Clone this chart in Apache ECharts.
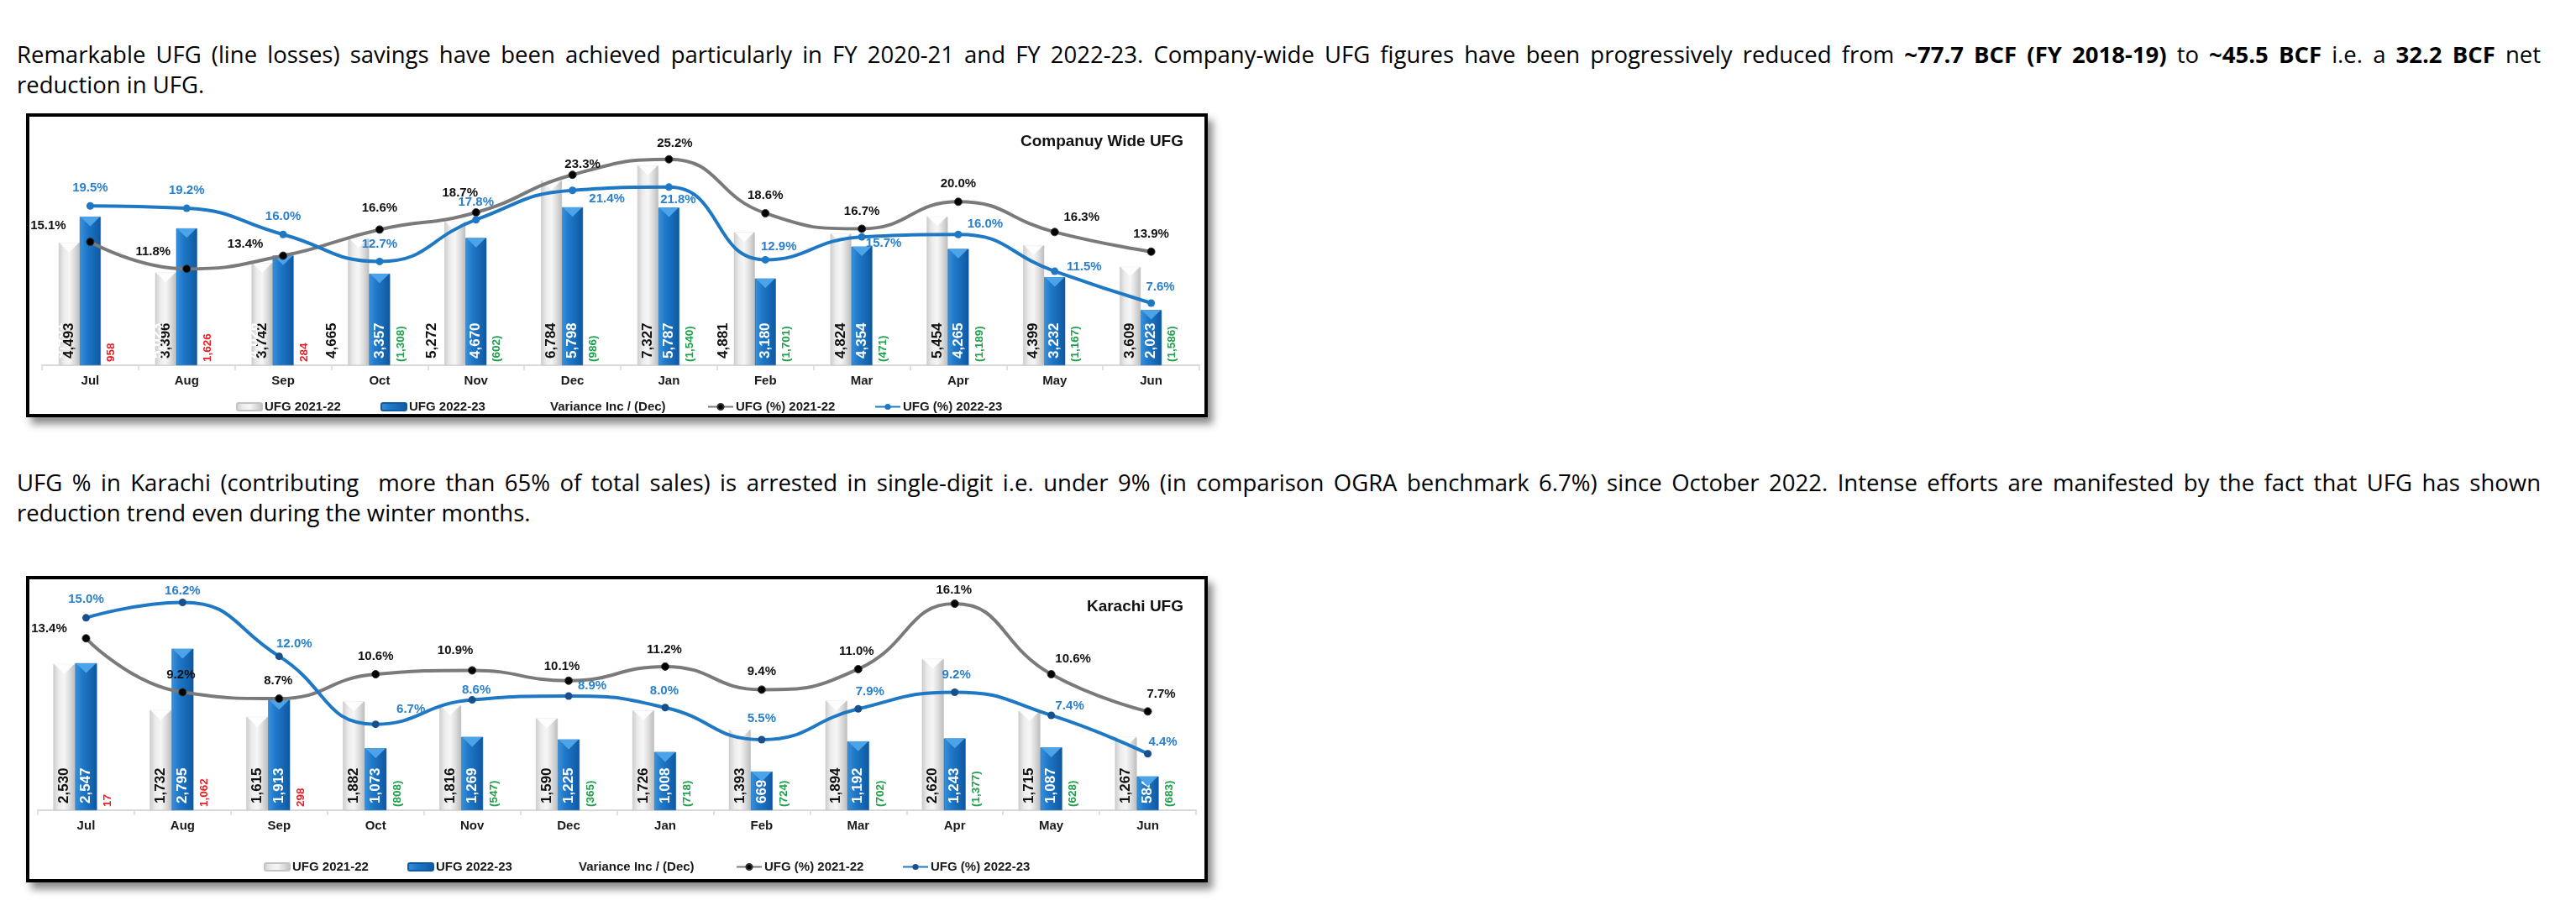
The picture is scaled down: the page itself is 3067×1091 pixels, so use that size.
<!DOCTYPE html>
<html lang="en">
<head>
    <meta charset="UTF-8">
    <title>UFG</title>
    <script src="https://cdn.jsdelivr.net/npm/echarts/dist/echarts.min.js"></script>
    <style>
        body {
            margin: 0;
            background: #fff;
            width: 3067px;
            height: 1091px;
            position: relative;
            overflow: hidden;
            font-family: 'Open Sans', 'Noto Sans', sans-serif;
            color: #000;
        }
        .para {
            position: absolute;
            left: 20px;
            width: 3005px;
            font-size: 27.5px;
            line-height: 36px;
        }
        .para .full {
            display: block;
            text-align: justify;
            text-align-last: justify;
        }
        .box {
            position: absolute;
            left: 31px;
            width: 1407px;
            border: 4px solid #000;
            box-sizing: border-box;
            background: #fff;
            box-shadow: 6px 8px 9px rgba(0, 0, 0, 0.45);
        }
        .chart {
            width: 100%;
            height: 100%;
        }
    </style>
</head>
<body>
    <div class="para" style="top:47px">
        <span class="full">Remarkable UFG (line losses) savings have been achieved particularly in FY 2020-21 and FY 2022-23. Company-wide UFG figures have been progressively reduced from <b>~77.7 BCF (FY 2018-19)</b> to <b>~45.5 BCF</b> i.e. a <b>32.2 BCF</b> net</span>
        <span>reduction in UFG.</span>
    </div>
    <div class="box" style="top:135px;height:362px"><div id="companyChart" class="chart"></div></div>

    <div class="para" style="top:557px">
        <span class="full">UFG % in Karachi (contributing&nbsp; more than 65% of total sales) is arrested in single-digit i.e. under 9% (in comparison OGRA benchmark 6.7%) since October 2022. Intense efforts are manifested by the fact that UFG has shown</span>
        <span>reduction trend even during the winter months.</span>
    </div>
    <div class="box" style="top:686px;height:365px"><div id="karachiChart" class="chart"></div></div>

    <script>
        // data (MMCF, %)
        const months = ['Jul', 'Aug', 'Sep', 'Oct', 'Nov', 'Dec', 'Jan', 'Feb', 'Mar', 'Apr', 'May', 'Jun'];

        const companyUfg2122 = [4493, 3396, 3742, 4665, 5272, 6784, 7327, 4881, 4824, 5454, 4399, 3609];
        const companyUfg2223 = [5451, 5023, 4026, 3357, 4670, 5798, 5787, 3180, 4354, 4265, 3232, 2023];
        const companyVariance = [958, 1626, 284, -1308, -602, -986, -1540, -1701, -471, -1189, -1167, -1586];
        const companyPct2122 = [15.1, 11.8, 13.4, 16.6, 18.7, 23.3, 25.2, 18.6, 16.7, 20.0, 16.3, 13.9];
        const companyPct2223 = [19.5, 19.2, 16.0, 12.7, 17.8, 21.4, 21.8, 12.9, 15.7, 16.0, 11.5, 7.6];

        const karachiUfg2122 = [2530, 1732, 1615, 1882, 1816, 1590, 1726, 1393, 1894, 2620, 1715, 1267];
        const karachiUfg2223 = [2547, 2795, 1913, 1073, 1269, 1225, 1008, 669, 1192, 1243, 1087, 584];
        const karachiVariance = [17, 1062, 298, -808, -547, -365, -718, -724, -702, -1377, -628, -683];
        const karachiPct2122 = [13.4, 9.2, 8.7, 10.6, 10.9, 10.1, 11.2, 9.4, 11.0, 16.1, 10.6, 7.7];
        const karachiPct2223 = [15.0, 16.2, 12.0, 6.7, 8.6, 8.9, 8.0, 5.5, 7.9, 9.2, 7.4, 4.4];

        const legendNames = ['UFG 2021-22', 'UFG 2022-23', 'Variance Inc / (Dec)', 'UFG (%) 2021-22', 'UFG (%) 2022-23'];

        const FONT = "'Liberation Sans', Arial, sans-serif";

        function fmt(v) {
            return Math.abs(v).toLocaleString('en-US');
        }

        function hGrad(stops) {
            return {
                type: 'linear', x: 0, y: 0, x2: 1, y2: 0,
                colorStops: stops.map((c, i) => ({ offset: i / (stops.length - 1), color: c }))
            };
        }

        const grayFill = hGrad(['#cdcdcd', '#ececec', '#f6f6f6', '#dcdcdc', '#bcbcbc']);
        const blueFill = hGrad(['#3a92dc', '#1f78c8', '#1769b6', '#0f57a0']);

        // the little bevel on top of each Excel bar
        function capRenderer(shift, barW, fill) {
            return function (params, api) {
                const p = api.coord([api.value(0), api.value(1)]);
                const cx = p[0] + shift * barW;
                return {
                    type: 'polygon',
                    shape: { points: [[cx - barW / 2 + 1, p[1]], [cx + barW / 2 - 1, p[1]], [cx, p[1] + barW * 0.45]] },
                    style: { fill: fill }
                };
            };
        }

        function makeOption(cfg) {
            const barW = cfg.barWidth;

            const barLabel = function (color) {
                return {
                    show: true,
                    position: 'insideBottom',
                    rotate: 90,
                    align: 'left',
                    verticalAlign: 'middle',
                    distance: 8,
                    fontFamily: FONT,
                    fontSize: 17,
                    fontWeight: 'bold',
                    color: color,
                    formatter: p => fmt(p.value)
                };
            };

            const liftItems = (values, lifts) => values.map((v, i) => lifts && lifts[i]
                ? { value: v, label: { offset: [0, -lifts[i]] } }
                : v);

            const pctItems = (values, offsets) => values.map((v, i) => ({ value: v, label: { offset: offsets[i] } }));

            const legendBase = {
                itemWidth: 30,
                itemHeight: 9,
                itemGap: 0,
                selectedMode: false,
                top: cfg.legendTop,
                textStyle: { fontFamily: FONT, fontSize: 15, fontWeight: 'bold', color: '#1a1a1a', padding: [0, 0, 0, -2] }
            };

            return {
                animation: false,
                title: {
                    text: cfg.title,
                    right: 20,
                    top: cfg.titleTop,
                    textStyle: { fontFamily: FONT, fontSize: 19, fontWeight: 'bold', color: '#111' }
                },
                legend: legendNames.map((n, i) => Object.assign({}, legendBase, { data: [n], left: cfg.legendLeft[i] })),
                grid: cfg.grid,
                xAxis: {
                    type: 'category',
                    data: months,
                    axisLine: { lineStyle: { color: '#d9d9d9', width: 2 } },
                    axisTick: { show: true, length: 6, lineStyle: { color: '#d9d9d9', width: 1.5 } },
                    axisLabel: { margin: 11, fontFamily: FONT, fontSize: 15, fontWeight: 'bold', color: '#1a1a1a' }
                },
                yAxis: [
                    { type: 'value', min: 0, max: cfg.barMax, show: false },
                    { type: 'value', min: 0, max: cfg.pctMax, show: false }
                ],
                series: [
                    {
                        name: legendNames[0],
                        type: 'bar',
                        barWidth: barW,
                        barGap: '0%',
                        z: 2,
                        itemStyle: { color: grayFill, borderColor: '#c4c4c4', borderWidth: 0.5 },
                        label: barLabel('#111'),
                        data: liftItems(cfg.ufg2122, cfg.grayLift)
                    },
                    {
                        name: legendNames[1],
                        type: 'bar',
                        barWidth: barW,
                        barGap: '0%',
                        z: 2,
                        itemStyle: { color: blueFill, borderColor: '#0f5aa0', borderWidth: 0.5 },
                        label: barLabel('#fff'),
                        data: liftItems(cfg.ufg2223, cfg.blueLift)
                    },
                    {
                        name: legendNames[2],
                        type: 'bar',
                        barWidth: barW,
                        barGap: '0%',
                        itemStyle: { color: 'rgba(0,0,0,0)' },
                        label: {
                            show: true,
                            position: 'insideBottom',
                            rotate: 90,
                            align: 'left',
                            verticalAlign: 'middle',
                            distance: 4,
                            formatter: p => {
                                const v = cfg.variance[p.dataIndex];
                                return v < 0 ? '{g|(' + fmt(v) + ')}' : '{r|' + fmt(v) + '}';
                            },
                            rich: {
                                r: { fontFamily: FONT, fontSize: 13.5, fontWeight: 'bold', color: '#ee1c25' },
                                g: { fontFamily: FONT, fontSize: 13.5, fontWeight: 'bold', color: '#1fa04a' }
                            }
                        },
                        data: cfg.variance.map(v => Math.abs(v))
                    },
                    {
                        type: 'custom',
                        z: 3,
                        silent: true,
                        renderItem: capRenderer(-1, barW, 'rgba(255,255,255,0.9)'),
                        data: cfg.ufg2122.map((v, i) => [i, v])
                    },
                    {
                        type: 'custom',
                        z: 3,
                        silent: true,
                        renderItem: capRenderer(0, barW, '#4da3e8'),
                        data: cfg.ufg2223.map((v, i) => [i, v])
                    },
                    {
                        name: legendNames[3],
                        type: 'line',
                        yAxisIndex: 1,
                        z: 5,
                        smooth: 0.5,
                        symbol: 'circle',
                        symbolSize: 9,
                        lineStyle: { color: '#7a7a7a', width: 4 },
                        itemStyle: { color: '#000', borderColor: '#333', borderWidth: 1 },
                        label: {
                            show: true,
                            position: 'inside',
                            fontFamily: FONT,
                            fontSize: 15,
                            fontWeight: 'bold',
                            color: '#111',
                            formatter: p => p.value.toFixed(1) + '%'
                        },
                        data: pctItems(cfg.pct2122, cfg.pct2122Off)
                    },
                    {
                        name: legendNames[4],
                        type: 'line',
                        yAxisIndex: 1,
                        z: 6,
                        smooth: 0.5,
                        symbol: 'circle',
                        symbolSize: 9,
                        lineStyle: { color: '#1f78c4', width: 4 },
                        itemStyle: { color: cfg.blueDot },
                        label: {
                            show: true,
                            position: 'inside',
                            fontFamily: FONT,
                            fontSize: 15,
                            fontWeight: 'bold',
                            color: '#2a80cc',
                            formatter: p => p.value.toFixed(1) + '%'
                        },
                        data: pctItems(cfg.pct2223, cfg.pct2223Off)
                    }
                ]
            };
        }

        var companyChart = echarts.init(document.getElementById('companyChart'));
        companyChart.setOption(makeOption({
            title: 'Companuy Wide UFG',
            titleTop: 15,
            grid: { left: 15, right: 6, top: 4, bottom: 58 },
            barMax: 9000,
            pctMax: 30,
            barWidth: 25,
            legendTop: 333,
            legendLeft: [241, 413, 582, 802, 1001],
            ufg2122: companyUfg2122,
            ufg2223: companyUfg2223,
            variance: companyVariance,
            pct2122: companyPct2122,
            pct2223: companyPct2223,
            grayLift: [0, 0, 0, 32, 27, 0, 0, 25, 0, 0, 0, 0],
            blueLift: [38, 35, 35, 0, 0, 0, 0, 0, 0, 0, 0, 0],
            pct2122Off: [[-50, -19], [-40, -20], [-45, -14], [0, -26], [-19, -23], [12, -12], [7, -19], [0, -21], [0, -21], [0, -21], [32, -17], [0, -21]],
            pct2223Off: [[0, -21], [0, -21], [0, -21], [0, -21], [0, -21], [41, 10], [11, 15], [16, -16], [26, 8], [32, -12], [35, -5], [11, -19]],
            blueDot: '#1f78c4'
        }));

        var karachiChart = echarts.init(document.getElementById('karachiChart'));
        karachiChart.setOption(makeOption({
            title: 'Karachi UFG',
            titleTop: 18,
            grid: { left: 10, right: 10, top: 0, bottom: 82 },
            barMax: 4000,
            pctMax: 18,
            barWidth: 26,
            legendTop: 330,
            legendLeft: [274, 445, 616, 836, 1034],
            ufg2122: karachiUfg2122,
            ufg2223: karachiUfg2223,
            variance: karachiVariance,
            pct2122: karachiPct2122,
            pct2223: karachiPct2223,
            grayLift: null,
            blueLift: null,
            pct2122Off: [[-44, -11], [-2, -21], [-1, -21], [0, -21], [-20, -24], [-8, -17], [-1, -20], [0, -22], [-2, -21], [-1, -16], [26, -18], [16, -21]],
            pct2223Off: [[0, -22], [0, -14], [18, -15], [42, -18], [5, -12], [28, -12], [-1, -20], [0, -25], [14, -20], [2, -21], [22, -11], [18, -14]],
            blueDot: '#17508c'
        }));
    </script>
</body>
</html>
